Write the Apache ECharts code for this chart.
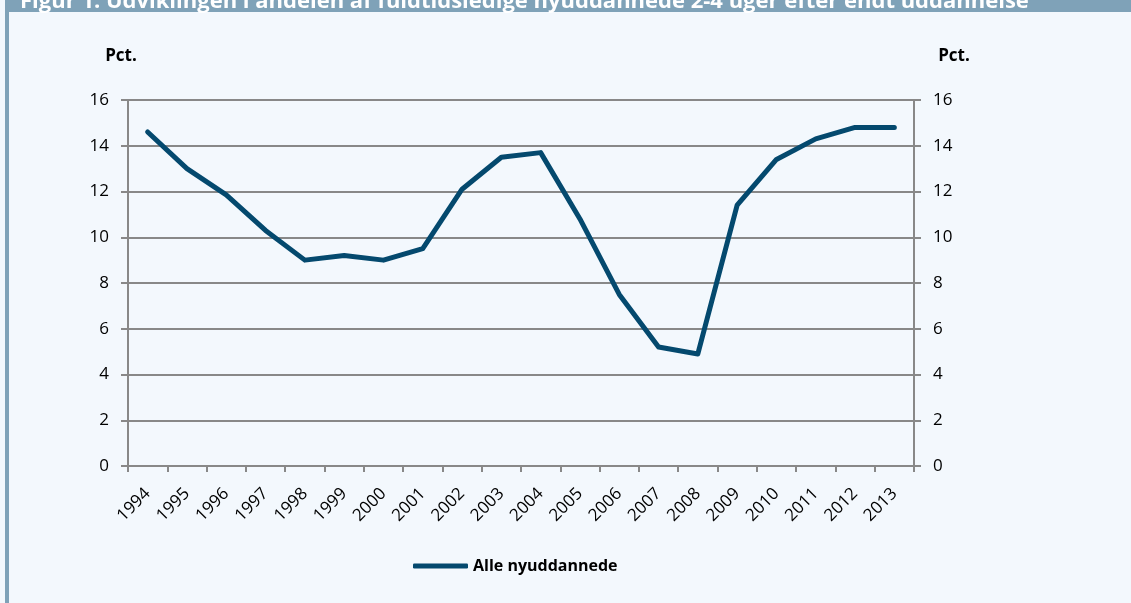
<!DOCTYPE html>
<html lang="da">
<head>
    <meta charset="UTF-8">
    <title>Fuldtidsledige nyuddannede</title>
    <style>
        html, body { margin: 0; padding: 0; background: #f3f8fd; }
        #box { width: 1131px; height: 603px; }
    </style>
</head>
<body>
<div id="box"></div>
<script src="https://cdn.jsdelivr.net/npm/echarts@6/dist/echarts.min.js"></script>
<script>
    var years = ['1994','1995','1996','1997','1998','1999','2000','2001','2002','2003',
                 '2004','2005','2006','2007','2008','2009','2010','2011','2012','2013'];
    var alleNyuddannede = [14.6, 13.0, 11.85, 10.3, 9.0, 9.2, 9.0, 9.5, 12.1, 13.5,
                           13.7, 10.8, 7.5, 5.2, 4.9, 11.4, 13.4, 14.3, 14.8, 14.8];
    var seriesName = 'Alle nyuddannede';
    var unitLabel = 'Pct.';
    var titleText = 'Figur 1. Udviklingen i andelen af fuldtidsledige nyuddannede 2-4 uger efter endt uddannelse';

    var font = 'Open Sans';
    var grey = '#888888';
    var lineColor = '#04496e';

    var mychart = echarts.init(document.getElementById('box'));

    var yAxisBase = {
        type: 'value',
        min: 0,
        max: 16,
        interval: 2,
        axisLine: { show: true, lineStyle: { color: grey, width: 2 } },
        axisTick: { show: true, length: 7, lineStyle: { color: grey, width: 2 } },
        axisLabel: { fontFamily: font, fontSize: 17, color: '#000', margin: 19 }
    };

    var option = {
        backgroundColor: '#f3f8fd',
        animation: false,
        graphic: [
            { type: 'rect', left: 5, top: 0, shape: { width: 1126, height: 12 }, style: { fill: '#7fa2b8' } },
            { type: 'rect', left: 5, top: 0, shape: { width: 4, height: 603 }, style: { fill: '#7fa2b8' } },
            { type: 'text', x: 20, y: 13, style: {
                text: titleText, fill: '#ffffff', fontFamily: font, fontSize: 22, fontWeight: 'bold',
                verticalAlign: 'bottom' } },
            { type: 'text', x: 121, y: 56, style: {
                text: unitLabel, fill: '#000', fontFamily: font, fontSize: 17, fontWeight: 'bold',
                align: 'center', verticalAlign: 'middle' } },
            { type: 'text', x: 954, y: 56, style: {
                text: unitLabel, fill: '#000', fontFamily: font, fontSize: 17, fontWeight: 'bold',
                align: 'center', verticalAlign: 'middle' } }
        ],
        grid: { left: 128, right: 217, top: 100, bottom: 137 },
        legend: {
            left: 408,
            top: 553,
            itemWidth: 55,
            itemHeight: 5,
            itemGap: 4,
            icon: 'roundRect',
            data: [seriesName],
            textStyle: { fontFamily: font, fontSize: 16, fontWeight: 'bold', color: '#000' }
        },
        xAxis: {
            type: 'category',
            data: years,
            boundaryGap: true,
            axisLine: { lineStyle: { color: grey, width: 2 } },
            axisTick: { show: true, length: 6, lineStyle: { color: grey, width: 2 } },
            axisLabel: { rotate: 45, fontFamily: font, fontSize: 17, color: '#000', margin: 25, interval: 0 }
        },
        yAxis: [
            Object.assign({}, yAxisBase, {
                position: 'left',
                splitLine: { show: true, lineStyle: { color: grey, width: 2 } }
            }),
            Object.assign({}, yAxisBase, {
                position: 'right',
                splitLine: { show: false }
            })
        ],
        series: [{
            name: seriesName,
            type: 'line',
            yAxisIndex: 0,
            data: alleNyuddannede,
            symbol: 'none',
            itemStyle: { color: lineColor },
            lineStyle: { color: lineColor, width: 5, cap: 'round', join: 'round' }
        }]
    };
    mychart.setOption(option);
</script>
</body>
</html>
